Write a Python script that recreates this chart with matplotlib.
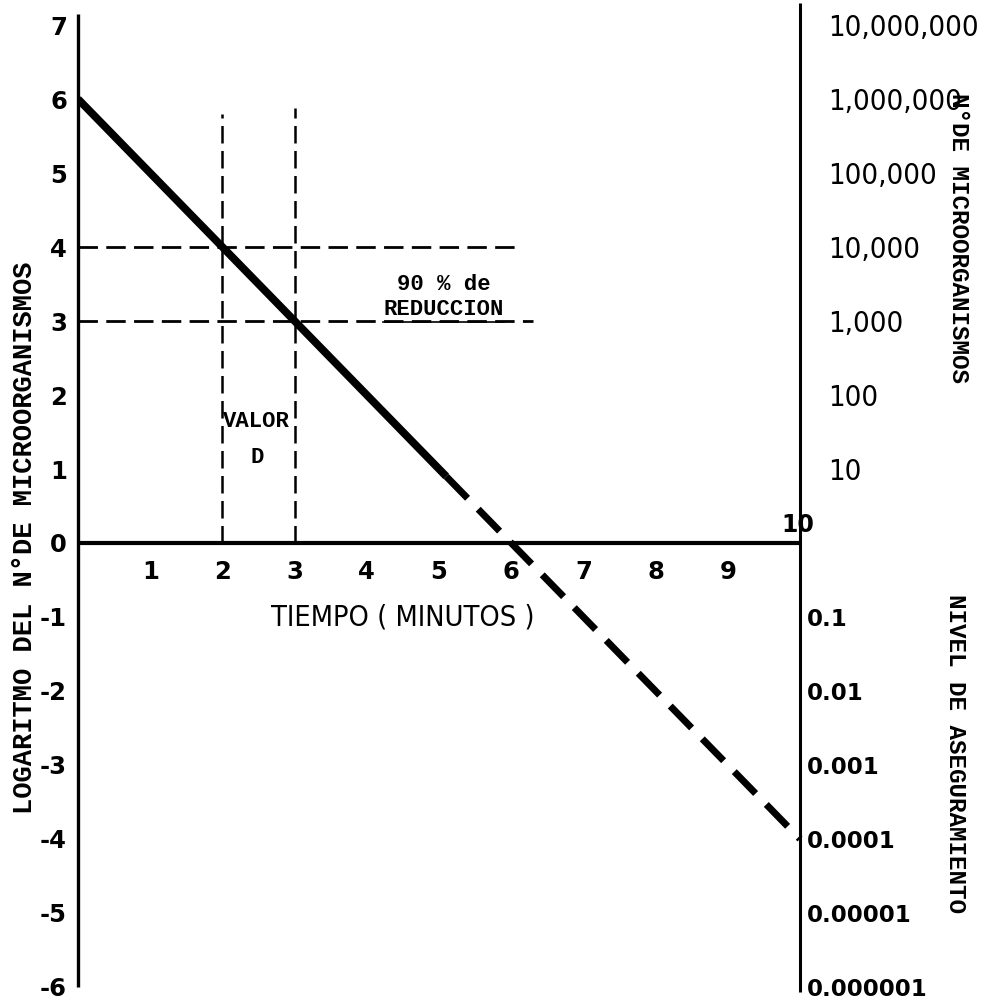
import matplotlib
matplotlib.use("Agg")
import matplotlib.pyplot as plt
from matplotlib import font_manager as fm

# ---------------- data ----------------
time_solid = [0.0, 5.1]
log_solid = [6.0, 0.9]
time_dashed = [5.1, 10.0]
log_dashed = [0.9, -4.0]

d_times = [2, 3]            # vertical reference lines (valor D)
d_tops = [5.8, 5.88]
d_levels = [4, 3]           # horizontal reference lines (90 % reduccion)
d_level_ends = [6.15, 6.3]

x_ticks = [1, 2, 3, 4, 5, 6, 7, 8, 9]
left_ticks = [7, 6, 5, 4, 3, 2, 1, 0, -1, -2, -3, -4, -5, -6]
right_ticks = [7, 6, 5, 4, 3, 2, 1, -1, -2, -3, -4, -5, -6]
right_labels = ["10,000,000", "1,000,000", "100,000", "10,000", "1,000", "100", "10",
                "0.1", "0.01", "0.001", "0.0001", "0.00001", "0.000001"]

# ---------------- fonts ----------------
names = {f.name for f in fm.fontManager.ttflist}
narrow_prop = None
if "Liberation Sans Narrow" in names:
    narrow_prop = fm.FontProperties(family="Liberation Sans Narrow")
else:
    for f in fm.fontManager.ttflist:
        if "SansCondensed.ttf" in f.fname and "Bold" not in f.fname and "Oblique" not in f.fname:
            narrow_prop = fm.FontProperties(fname=f.fname)
            break
if narrow_prop is None:
    narrow_prop = fm.FontProperties(family="Liberation Sans")
mono = "Liberation Mono"
boldsans = "DejaVu Sans"

W, H = 983, 1002
fig = plt.figure(figsize=(W / 100, H / 100), dpi=100)
ylo, yhi = -6.2, 7.3
x0px, x1px = 78, 800
ytop_px = 543 - 74 * yhi
ybot_px = 543 - 74 * ylo
ax = fig.add_axes([x0px / W, 1 - ybot_px / H, (x1px - x0px) / W, (ybot_px - ytop_px) / H])
ax.set_xlim(0, 10)
ax.set_ylim(ylo, yhi)
for s in ax.spines.values():
    s.set_visible(False)
ax.set_xticks([])

# axis lines
ax.plot([0, 0], [-6.0, 7.15], color="black", lw=2.4, clip_on=False, solid_capstyle="butt")
ax.plot([10, 10], [-6.07, 7.3], color="black", lw=2.2, clip_on=False, solid_capstyle="butt")
ax.plot([0, 10], [0, 0], color="black", lw=3.0, clip_on=False, solid_capstyle="butt")

# main curve
ax.plot(time_solid, log_solid, color="black", lw=5.6, solid_capstyle="butt")
ax.plot(time_dashed, log_dashed, color="black", lw=5.0, dashes=(4.4, 2.2),
        dash_capstyle="butt", clip_on=False)

# reference lines
for t, top in zip(d_times, d_tops):
    ax.plot([t, t], [0, top], color="black", lw=1.8, dashes=(7, 3))
for lv, end in zip(d_levels, d_level_ends):
    ax.plot([0, end], [lv, lv], color="black", lw=2.0, dashes=(7, 3))

# left tick labels
ax.set_yticks(left_ticks)
ax.set_yticklabels([str(v) for v in left_ticks])
ax.tick_params(axis="y", length=0, pad=8)
for lab in ax.get_yticklabels():
    lab.set_fontfamily(boldsans)
    lab.set_fontweight("bold")
    lab.set_fontsize(17.5)

# x tick labels (drawn below the zero line)
for t in x_ticks:
    ax.text(t, -0.39, str(t), ha="center", va="center", fontsize=17.5,
            fontweight="bold", family=boldsans)
ax.text(9.97, 0.24, "10", ha="center", va="center", fontsize=17,
        fontweight="bold", family=boldsans, clip_on=False)

# right tick labels
tw = ax.twinx()
tw.set_ylim(ylo, yhi)
for s in tw.spines.values():
    s.set_visible(False)
tw.set_yticks(right_ticks)
tw.set_yticklabels(right_labels)
tw.tick_params(axis="y", length=0)
for tick, v in zip(tw.yaxis.get_major_ticks(), right_ticks):
    lab = tick.label2
    if v > 0:
        tick.set_pad(20)
        lab.set_fontproperties(narrow_prop)
        lab.set_fontsize(21)
    else:
        tick.set_pad(5)
        lab.set_fontfamily(boldsans)
        lab.set_fontweight("bold")
        lab.set_fontsize(16.5)

# annotations
ax.text(5.06, 3.49, "90 % de", ha="center", va="center", fontsize=16,
        family=mono, fontweight="bold")
ax.text(5.06, 3.16, "REDUCCION", ha="center", va="center", fontsize=16,
        family=mono, fontweight="bold")
ax.plot([4.23, 5.9], [2.99, 2.99], color="black", lw=1.2)
ax.text(2.01, 1.64, "VALOR", ha="left", va="center", fontsize=16,
        family=mono, fontweight="bold")
ax.text(2.48, 1.16, "D", ha="center", va="center", fontsize=16,
        family=mono, fontweight="bold")
tiempo = ax.text(4.5, -1.01, "TIEMPO ( MINUTOS )", ha="center", va="center",
                 fontproperties=narrow_prop, fontsize=23)

# axis titles
ax.text(-0.73, 0.07, "LOGARITMO DEL N°DE MICROORGANISMOS", rotation=90,
        ha="center", va="center", fontsize=19.5, family=mono, fontweight="bold",
        clip_on=False)
ax.text(12.2, 4.12, "N°DE MICROORGANISMOS", rotation=-90, ha="center",
        va="center", fontsize=17.5, family=mono, fontweight="bold", clip_on=False)
ax.text(12.15, -2.84, "NIVEL DE ASEGURAMIENTO", rotation=-90, ha="center",
        va="center", fontsize=17.5, family=mono, fontweight="bold", clip_on=False)

# fit the x-axis title to the width it has in the reference (about 265 px)
fig.canvas.draw()
w = tiempo.get_window_extent().width
if w > 0:
    tiempo.set_fontsize(23 * 265.0 / w)

fig.savefig("out.png", dpi=100, facecolor="white")
